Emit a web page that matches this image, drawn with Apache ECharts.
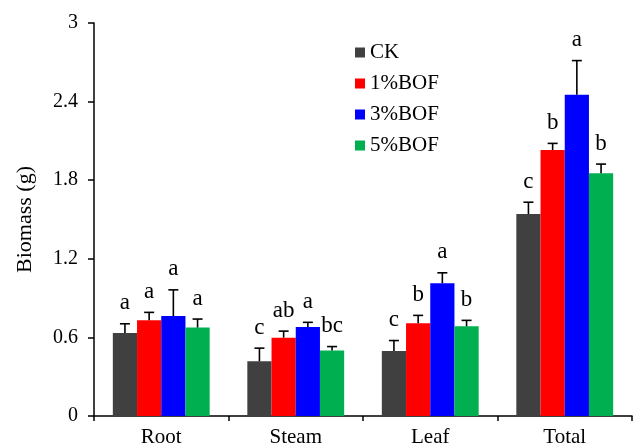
<!DOCTYPE html>
<html>
<head>
<meta charset="utf-8">
<script src="https://cdn.jsdelivr.net/npm/echarts@6/dist/echarts.min.js"></script>
<style>
  html, body { margin: 0; padding: 0; background: #fff; }
  #main { width: 634px; height: 446px; }
</style>
</head>
<body>
<div id="main"></div>
<script>
// categories and treatments
var categories = ['Root', 'Steam', 'Leaf', 'Total'];
var seriesNames = ['CK', '1%BOF', '3%BOF', '5%BOF'];
var colors = ['#404040', '#ff0000', '#0000ff', '#00b050'];

// mean biomass (g)
var ck   = [0.634, 0.418, 0.496, 1.542];
var bof1 = [0.731, 0.598, 0.708, 2.031];
var bof3 = [0.763, 0.679, 1.013, 2.453];
var bof5 = [0.675, 0.500, 0.685, 1.853];

// error (upper only)
var ckErr   = [0.07, 0.10, 0.08, 0.09];
var bof1Err = [0.06, 0.05, 0.06, 0.05];
var bof3Err = [0.20, 0.036, 0.08, 0.26];
var bof5Err = [0.065, 0.03, 0.045, 0.07];

// significance letters
var ckSig   = ['a', 'c', 'c', 'c'];
var bof1Sig = ['a', 'ab', 'b', 'b'];
var bof3Sig = ['a', 'a', 'a', 'a'];
var bof5Sig = ['a', 'bc', 'b', 'b'];

var yTicks = [0, 0.6, 1.2, 1.8, 2.4, 3];

var values = [ck, bof1, bof3, bof5];
var errs = [ckErr, bof1Err, bof3Err, bof5Err];
var sigs = [ckSig, bof1Sig, bof3Sig, bof5Sig];

var FONT = 'Liberation Serif';
var GAP = 0.28; // barCategoryGap

var chartDom = document.getElementById('main');
var myChart = echarts.init(chartDom);

function errorSeries(idx) {
  var data = [];
  for (var i = 0; i < categories.length; i++) {
    data.push([i, values[idx][i], errs[idx][i], sigs[idx][i]]);
  }
  return {
    type: 'custom',
    name: seriesNames[idx] + ' err',
    z: 10,
    data: data,
    renderItem: function (params, api) {
      var catW = api.size([1, 0])[0];
      var groupW = catW * (1 - GAP);
      var barW = groupW / 4;
      var off = -groupW / 2 + barW * (idx + 0.5);
      var base = api.coord([api.value(0), api.value(1)]);
      var top = api.coord([api.value(0), api.value(1) + api.value(2)]);
      var x = base[0] + off;
      var style = { stroke: '#000', lineWidth: 1.6 };
      return {
        type: 'group',
        children: [
          { type: 'line', shape: { x1: x, y1: base[1], x2: x, y2: top[1] }, style: style },
          { type: 'line', shape: { x1: x - 5, y1: top[1], x2: x + 5, y2: top[1] }, style: style },
          {
            type: 'text',
            style: {
              text: data[params.dataIndex][3],
              x: x, y: top[1] - 9,
              align: 'center', verticalAlign: 'bottom',
              font: '23px "' + FONT + '"', fill: '#000'
            }
          }
        ]
      };
    }
  };
}

var series = [];
for (var s = 0; s < 4; s++) {
  series.push({
    name: seriesNames[s],
    type: 'bar',
    data: values[s],
    barGap: 0,
    barCategoryGap: '28%',
    itemStyle: { color: colors[s] }
  });
}
for (var s2 = 0; s2 < 4; s2++) series.push(errorSeries(s2));

var option = {
  animation: false,
  textStyle: { fontFamily: FONT },
  grid: { left: 94, right: 2, top: 23, bottom: 30, containLabel: false, outerBoundsMode: 'none' },
  legend: {
    data: seriesNames.map(function (n) { return { name: n, icon: 'rect' }; }),
    orient: 'vertical',
    left: 355,
    top: 42,
    padding: 0,
    itemWidth: 10,
    itemHeight: 10,
    itemGap: 10,
    textStyle: { fontFamily: FONT, fontSize: 21, color: '#000' }
  },
  xAxis: {
    type: 'category',
    data: categories,
    axisLine: { lineStyle: { color: '#000', width: 1.5 } },
    axisTick: { show: true, length: 5, lineStyle: { color: '#000', width: 1.5 } },
    axisLabel: { color: '#000', fontSize: 21, fontFamily: FONT, margin: 11 }
  },
  yAxis: {
    type: 'value',
    min: 0,
    max: 3,
    interval: 0.6,
    name: 'Biomass (g)',
    nameLocation: 'middle',
    nameGap: 58,
    nameTextStyle: { color: '#000', fontSize: 22, fontFamily: FONT },
    axisLine: { show: true, lineStyle: { color: '#000', width: 1.5 } },
    axisTick: { show: true, length: 6, lineStyle: { color: '#000', width: 1.5 } },
    axisLabel: {
      color: '#000', fontSize: 20, fontFamily: FONT, margin: 16,
      formatter: function (v) {
        var t = yTicks.filter(function (k) { return Math.abs(k - v) < 1e-6; });
        return t.length ? String(t[0]) : '';
      }
    },
    splitLine: { show: false }
  },
  series: series
};

option && myChart.setOption(option);
</script>
</body>
</html>
